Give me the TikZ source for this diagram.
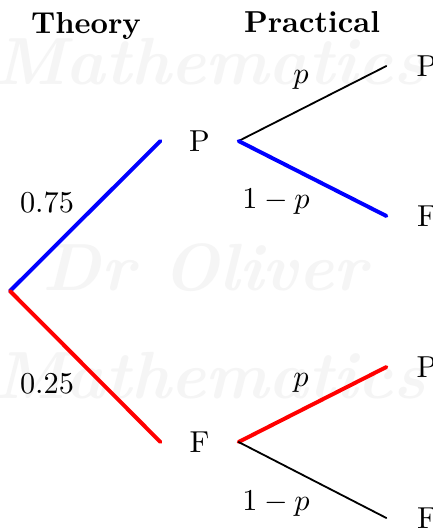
\documentclass[tikz,border=0pt]{standalone}
\usepackage{xcolor}
\begin{document}
\begin{tikzpicture}[x=0.33pt,y=-0.33pt,
  wm/.style={text=black!4,font=\fontsize{22}{22}\selectfont\bfseries\itshape,inner sep=0pt},
  hdr/.style={font=\bfseries,anchor=base,inner sep=0pt},
  lbl/.style={anchor=base,inner sep=0pt},
  mid/.style={inner sep=0pt,minimum width=25.4pt},
  leaf/.style={inner sep=0pt,minimum width=26.4pt},
  thickb/.style={line width=1.3pt,blue,line cap=round},
  thickr/.style={line width=1.3pt,red,line cap=round},
  thin/.style={line width=0.6pt,black,line cap=round}]
\fill[white] (0,0) rectangle (432,529);
\useasboundingbox (0,0) rectangle (432,529);
% watermark
\node[wm] (w1) at (210,62) {Mathematics};
\node[wm] (w2) at (205,268) {Dr Oliver};
\node[wm] (w3) at (210,376) {Mathematics};
% headers
\node[hdr] (th) at (86,33) {Theory};
\node[hdr] (pr) at (312,32) {Practical};
% nodes
\coordinate (root) at (10,291);
\node[mid] (P) at (199.5,141) {P};
\node[mid] (F) at (199.5,442) {F};
\node[leaf] (PP) at (427,66) {P};
\node[leaf] (PF) at (427,216) {F};
\node[leaf] (FP) at (427,367) {P};
\node[leaf] (FF) at (427,518) {F};
% edges
\draw[thickb] (root) -- (P.west);
\draw[thickr] (root) -- (F.west);
\draw[thin] (P.east) -- (PP.west);
\draw[thickb] (P.east) -- (PF.west);
\draw[thickr] (F.east) -- (FP.west);
\draw[thin] (F.east) -- (FF.west);
% labels
\node[lbl] (l1) at (47,212) {$0.75$};
\node[lbl] (l2) at (47,393) {$0.25$};
\node[lbl] (l3) at (301,83) {$p$};
\node[lbl] (l4) at (276,208) {$1-p$};
\node[lbl] (l5) at (301,386) {$p$};
\node[lbl] (l6) at (276,510) {$1-p$};
\end{tikzpicture}
\end{document}
